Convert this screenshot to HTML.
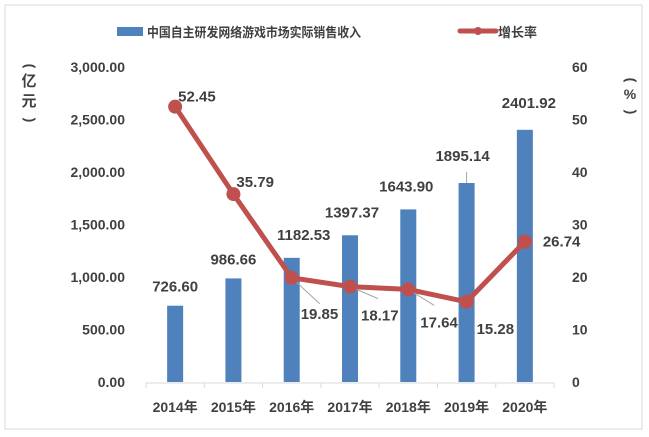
<!DOCTYPE html>
<html><head><meta charset="utf-8"><style>
body{margin:0;background:#fff;}
svg{display:block;font-family:"Liberation Sans","Noto Sans CJK SC",sans-serif;}
text{fill:#404040;font-weight:bold;}
</style></head><body>
<svg id="c" width="649" height="437">
<rect x="5" y="5" width="637" height="424" fill="#fff" stroke="#d9d9d9"/>
</svg>
<script>
const categories=["2014年","2015年","2016年","2017年","2018年","2019年","2020年"];
const revenue=[726.60,986.66,1182.53,1397.37,1643.90,1895.14,2401.92];
const growth=[52.45,35.79,19.85,18.17,17.64,15.28,26.74];
const leftTicks=["0.00","500.00","1,000.00","1,500.00","2,000.00","2,500.00","3,000.00"];
const rightTicks=["0","10","20","30","40","50","60"];
const svg=document.getElementById('c');const NS='http://www.w3.org/2000/svg';
function el(t,a,txt){const e=document.createElementNS(NS,t);for(const k in a)e.setAttribute(k,a[k]);if(txt!==undefined)e.textContent=txt;svg.appendChild(e);return e;}
const x0=146,x1=554,yB=382,yT=67;
const step=(x1-x0)/categories.length;
const xc=i=>x0+step*(i+0.5);
const yL=v=>yB-(v/3000)*(yB-yT);
const yR=v=>yB-(v/60)*(yB-yT);
leftTicks.forEach((t,i)=>{const e=el('text',{x:125,y:yL(i*500)+5,'text-anchor':'end','font-size':14},t);
});
rightTicks.forEach((t,i)=>{const e=el('text',{x:572,y:yR(i*10)+5,'font-size':14},t);
});
let a=el('line',{x1:x0,y1:yB+1,x2:x1,y2:yB+1,stroke:'#d9d9d9'});
for(let i=0;i<=categories.length;i++){const t=el('line',{x1:x0+step*i,y1:yB+1,x2:x0+step*i,y2:yB+6,stroke:'#d9d9d9'});}
categories.forEach((c,i)=>{const e=el('text',{x:xc(i),y:yB+30,'text-anchor':'middle','font-size':14},c);
});
// axis titles
function vparen(x,y,ch,name){const e=el('text',{x:x,y:y,'font-size':14,'text-anchor':'middle',transform:`rotate(90 ${x} ${y})`,'dominant-baseline':'middle'},ch);
}
vparen(29,66,'(','left-axis-title-open');
let l1=el('text',{x:29,y:86,'font-size':15,'text-anchor':'middle'},'亿');
let l2=el('text',{x:29,y:106,'font-size':15,'text-anchor':'middle'},'元');
vparen(29,120,')','left-axis-title-close');
vparen(630,80,'(','right-axis-title-open');
let r1=el('text',{x:630,y:99,'font-size':14,'text-anchor':'middle'},'%');
vparen(630,112,')','right-axis-title-close');
// bars
const bw=16;
revenue.forEach((v,i)=>{const b=el('rect',{x:xc(i)-bw/2,y:yL(v),width:bw,height:yB-yL(v),fill:'#4f81bd'});
});
const bdx=[0,0,12,2,-2,-4,4],bdy=[-14,-14,-18,-18,-18,-22,-22];
revenue.forEach((v,i)=>{const t=el('text',{x:xc(i)+bdx[i],y:yL(v)+bdy[i],'text-anchor':'middle','font-size':15},v.toFixed(2));
});
const ld=el('line',{x1:xc(5),y1:yL(revenue[5]),x2:xc(5),y2:yL(revenue[5])-11,stroke:'#a6a6a6'});
// line
const pts=growth.map((v,i)=>xc(i)+','+yR(v)).join(' ');
const pl=el('polyline',{points:pts,fill:'none',stroke:'#c0504d','stroke-width':5,'stroke-linejoin':'round'});

const ldx=[0,0,28,28,26,0,0],ldy=[0,0,26,12,16,0,0];
growth.forEach((v,i)=>{if(ldx[i]){const l=el('line',{x1:xc(i),y1:yR(v),x2:xc(i)+ldx[i],y2:yR(v)+ldy[i],stroke:'#a6a6a6'});}});
growth.forEach((v,i)=>{const p=el('circle',{cx:xc(i),cy:yR(v),r:7,fill:'#c0504d'});
});
const gdx=[3,3,9,11,12,10,18],gdy=[-10,-12,36,29,33,27,0];
growth.forEach((v,i)=>{const t=el('text',{x:xc(i)+gdx[i],y:yR(v)+gdy[i]+5,'font-size':15},v.toFixed(2));
});
// legend
let r=el('rect',{x:117,y:27,width:26,height:9,fill:'#4f81bd'});
let t1=el('text',{x:147,y:37,'font-size':13,textLength:214,lengthAdjust:'spacingAndGlyphs'},'中国自主研发网络游戏市场实际销售收入');
let ll=el('line',{x1:460,y1:31,x2:496,y2:31,stroke:'#c0504d','stroke-width':5,'stroke-linecap':'round'});
let lc=el('circle',{cx:478,cy:31,r:4,fill:'#c0504d'});
let t2=el('text',{x:498,y:37,'font-size':13},'增长率');
</script>
</body></html>
